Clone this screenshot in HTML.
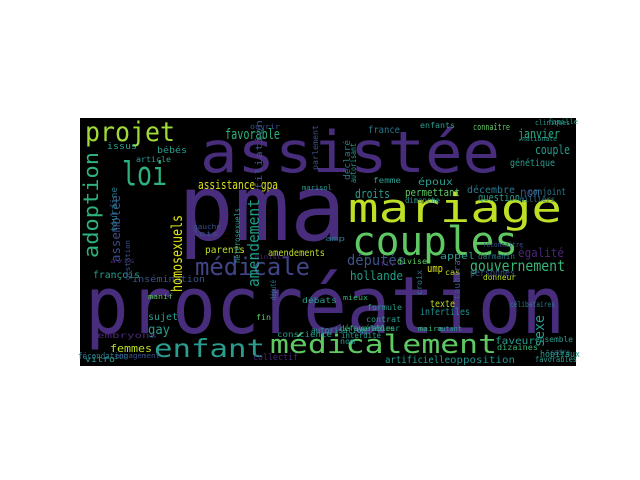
<!DOCTYPE html>
<html><head><meta charset="utf-8"><style>
html,body{margin:0;padding:0;background:#fff;}
svg{display:block;}
text{font-family:"DejaVu Sans Mono","Liberation Mono",monospace;}
</style></head><body>
<svg width="640" height="480" viewBox="0 0 640 480">
<rect x="80" y="118" width="496" height="248" fill="#000"/>
<g id="words"></g>
</svg>
<script>
const words = ["procréation","pma","assistée","mariage","couples","médicalement","enfant","médicale","projet","loi","favorable","assistance gpa","gouvernement","députés","hollande","égalité","janvier","couple","france","enfants","connaître","droits","permettant","décembre","question","non","conjoint","génétique","texte","infertiles","opposition","artificielle","faveur","dizaines","ensemble","cadre","favorables","femmes","vitro","gay","sujet","parents","amendements","françois","insémination","ump","appel","darmanin","personnes","donneur","divise","cas","hôpitaux","célibataires","époux","dimanche","milliers","ouvrir","cliniques","famille","nationale","issus","bébés","article","femme","marisol","gauche","lois","fin","débats","mieux","formule","contrat","célébrer","interdite","autorisation","conscience","embryons","nom","collectif","fécondation","défavorables","maire","autant","manif","engagement","ministre","avis","fiv","reconnaître","amp"];
const xs = [85,178,200,348,352,270,154,195,85,122,225,198,470,347,350,518,518,535,368,420,473,355,405,467,478,520,528,510,430,420,450,385,495,497,535,550,535,110,85,148,148,205,268,93,132,427,440,478,470,483,397,445,540,510,418,405,520,250,535,548,522,107,157,136,373,302,193,193,256,302,343,367,366,360,341,311,277,97,340,253,78,340,418,437,148,115,255,110,380,483,325];
const ys = [333,240,172,222,255,353,357,275,141,185,139,189,271,265,280,257,138,154,133,128,130,198,196,193,201,197,195,166,307,315,363,363,344,350,342,355,362,352,362,334,320,253,256,278,282,272,259,259,276,280,264,275,357,307,185,203,202,129,125,124,141,149,153,162,183,190,229,236,320,303,300,310,322,331,338,333,337,338,344,360,359,331,331,331,299,358,259,263,266,247,241];
const sizes = [79,92,57,40,40,26,25,24,27,33,14,12,15,14,12,12,12,12,10,8,9,12,11,10,11,13,10,10,10,10,10,10,10,8,8,8,8,11,9,13,10,10,10,10,9,11,9,8,10,8,8,8,9,8,10,8,8,7,7,7,7,9,9,8,8,7,7,7,8,8,7,8,8,8,8,8,8,8,8,9,9,8,7,7,7,7,6,6,7,7,7];
const colors = ["#472d7b","#472d7b","#472d7b","#bddf26","#5ec962","#5ec962","#2a9d8f","#414487","#a0da39","#2db27d","#2db27d","#dde318","#35b779","#3b528b","#1f9e89","#482878","#25ab82","#2a9d8f","#2a788e","#2a9d8f","#5ec962","#2a9d8f","#5ec962","#2a788e","#2a9d8f","#3b528b","#2a788e","#2a9d8f","#bddf26","#21918c","#21918c","#2a9d8f","#2a9d8f","#35b779","#2a9d8f","#2a788e","#2a9d8f","#bddf26","#2a9d8f","#2a9d8f","#2a9d8f","#bddf26","#bddf26","#2a9d8f","#3b528b","#dde318","#2a9d8f","#2a788e","#3b528b","#bddf26","#5ec962","#bddf26","#2a9d8f","#2a788e","#2a9d8f","#2a9d8f","#2a788e","#3b528b","#2a9d8f","#2a9d8f","#2a9d8f","#2a9d8f","#2a9d8f","#2a9d8f","#2a9d8f","#2a9d8f","#3b528b","#3b528b","#5ec962","#2a9d8f","#35b779","#2a9d8f","#2a9d8f","#2a9d8f","#2a9d8f","#2a9d8f","#2a9d8f","#482878","#2a9d8f","#482878","#2a788e","#35b779","#35b779","#2a9d8f","#5ec962","#3b528b","#482878","#482878","#482878","#3b528b","#2a788e"];
const lens = [480,168,300,214,166,227,111,115,90,45,55,80,95,58,53,46,42,35,32,35,37,35,55,48,42,20,38,45,25,50,65,65,40,41,38,20,42,42,30,22,30,40,57,47,73,16,35,37,45,33,30,15,40,45,35,35,35,30,35,30,35,30,30,35,28,30,28,25,15,35,25,35,35,40,40,55,55,60,15,45,50,55,25,25,25,45,35,25,15,40,20];
const vWords = ["adoption","homosexuels","amendement","assemblée","sexe","filiation","touraine","déclaré","autorisant","hétérosexuels","parlement","taubira","croix","député","gestation"];
const vXs = [98,182,259,120,544,262,117,350,356,240,318,460,422,276,130];
const vYs = [258,292,287,262,347,190,232,180,183,263,170,300,295,300,280];
const vSizes = [20,15,16,12,14,9,9,9,8,8,8,9,8,8,7];
const vColors = ["#2db27d","#dde318","#1f9e89","#3e4a89","#2a9d8f","#3b528b","#2a788e","#2a788e","#2a9d8f","#2a9d8f","#3b528b","#3b528b","#2a788e","#2a788e","#3b528b"];
const vLens = [106,77,88,67,32,70,45,40,40,55,45,40,25,20,40];

const g = document.getElementById('words');
const NS = 'http://www.w3.org/2000/svg';
function addWord(w, x, y, s, c, l, vertical) {
  const t = document.createElementNS(NS, 'text');
  
  
  t.setAttribute('font-size', s);
  t.setAttribute('fill', c);
  t.setAttribute('textLength', l);
  t.setAttribute('lengthAdjust', 'spacingAndGlyphs');
  if (vertical) {
    t.setAttribute('x', 0); t.setAttribute('y', 0);
    t.setAttribute('transform', 'translate(' + x + ',' + y + ') rotate(-90)');
  } else {
    t.setAttribute('x', x); t.setAttribute('y', y);
  }
  t.textContent = w;
  g.appendChild(t);
}
for (let i = 0; i < words.length; i++) addWord(words[i], xs[i], ys[i], sizes[i], colors[i], lens[i], 0);
for (let i = 0; i < vWords.length; i++) addWord(vWords[i], vXs[i], vYs[i], vSizes[i], vColors[i], vLens[i], 1);
</script>
</body></html>
